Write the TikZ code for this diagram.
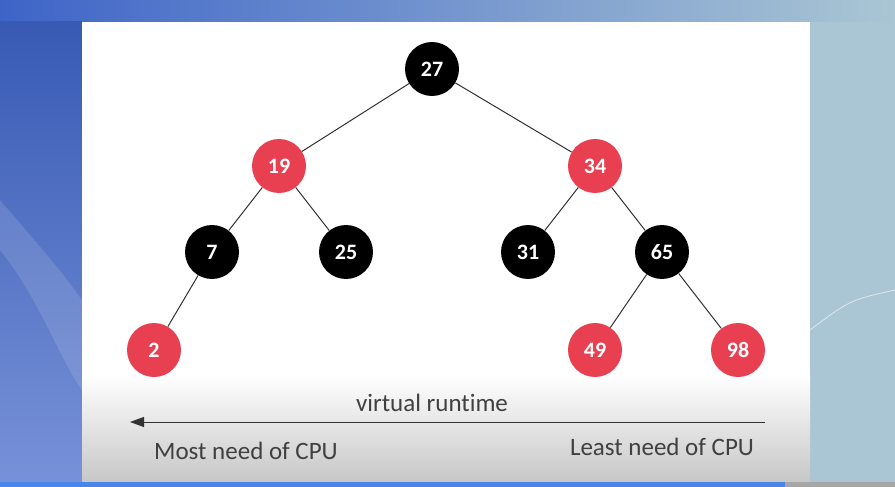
\documentclass[tikz,border=0pt]{standalone}
\usepackage{fontspec}
\setmainfont{Carlito}[Ligatures={NoCommon,NoContextual}]
\usetikzlibrary{arrows.meta}
\definecolor{nodered}{RGB}{232,64,80}
\definecolor{bgblue}{RGB}{62,100,200}
\definecolor{bglight}{RGB}{170,198,212}
\definecolor{barblue}{RGB}{74,134,232}
\definecolor{edgegray}{RGB}{50,50,50}
\tikzset{
  rb/.style={circle, minimum size=54pt, inner sep=0pt, text=white, font=\fontsize{22}{22}\selectfont\bfseries},
  rednode/.style={rb, fill=nodered},
  blacknode/.style={rb, fill=black},
  edge/.style={draw=edgegray, line width=1pt},
  lbl/.style={font=\fontsize{25}{25}\selectfont, text=black!75, inner sep=0pt}
}
\begin{document}
\begin{tikzpicture}[x=1pt,y=-1pt]
\useasboundingbox (0,0) rectangle (895,487);
% background
\shade[left color=bgblue, right color=bglight] (0,0) rectangle (895,487);
\shade[top color=bgblue!90!black, bottom color=bgblue!70!white] (0,22) rectangle (82,487);
\fill[bglight] (810,22) rectangle (895,487);
\fill[white,opacity=0.12] (0,250) .. controls (40,300) and (60,360) .. (82,390) -- (82,300) .. controls (60,270) .. (0,200) -- cycle;
\draw[white!60!bglight, line width=0.8pt] (810,330) .. controls (850,300) .. (895,290);
% slide
\fill[white] (82,22) rectangle (810,482);
\shade[top color=white, bottom color=black!22] (82,375) rectangle (810,482);
\fill[barblue] (0,482) rectangle (785,487);
\fill[black!35] (785,482) rectangle (895,487);
% nodes
\node[blacknode] (n27) at (432,69) {27};
\node[rednode] (n19) at (279,166) {19};
\node[rednode] (n34) at (595,166) {34};
\node[blacknode] (n7) at (212,252) {7};
\node[blacknode] (n25) at (346,252) {25};
\node[blacknode] (n31) at (528,252) {31};
\node[blacknode] (n65) at (662,252) {65};
\node[rednode] (n2) at (154,350) {2};
\node[rednode] (n49) at (595,350) {49};
\node[rednode] (n98) at (738,350) {98};
% edges
\draw[edge] (n27) -- (n19);
\draw[edge] (n27) -- (n34);
\draw[edge] (n19) -- (n7);
\draw[edge] (n19) -- (n25);
\draw[edge] (n34) -- (n31);
\draw[edge] (n34) -- (n65);
\draw[edge] (n7) -- (n2);
\draw[edge] (n65) -- (n49);
\draw[edge] (n65) -- (n98);
% arrow
\coordinate (ar) at (765,422);
\coordinate (al) at (130,422);
\draw[edgegray, line width=0.9pt, -{Triangle[length=14pt,width=10pt]}] (ar) -- (al);
\node[lbl] (vr) at (432,403) {virtual runtime};
\node[lbl] (most) at (246,451) {Most need of CPU};
\node[lbl] (least) at (662,447) {Least need of CPU};
\end{tikzpicture}
\end{document}
